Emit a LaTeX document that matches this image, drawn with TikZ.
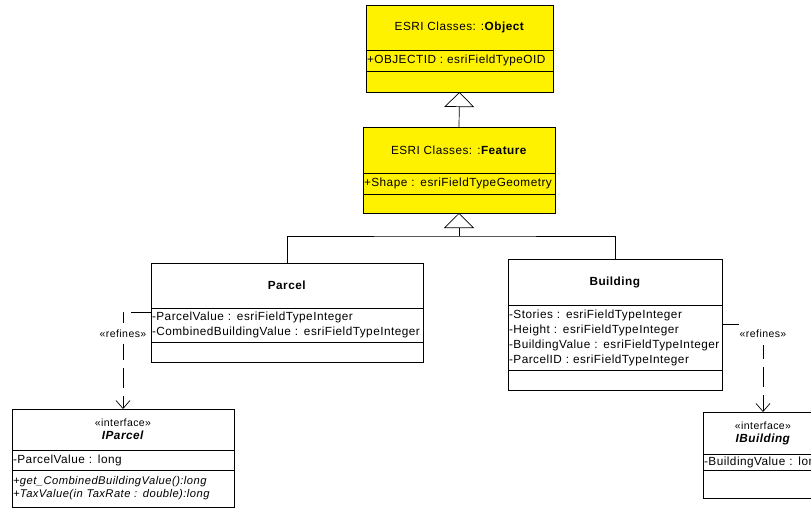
\documentclass[tikz,border=0pt]{standalone}
\usepackage{fontspec}
\setmainfont{Liberation Sans}[LetterSpace=4]
\usetikzlibrary{arrows.meta,positioning}

\begin{document}
\begin{tikzpicture}[
    x=1pt, y=-1pt,
    font=\fontsize{11.8}{15}\selectfont,
    part/.style={draw, line width=0.7pt, inner xsep=1pt, inner ysep=1pt, outer sep=0pt},
    head/.style={part, align=center},
    fields/.style={part, align=left},
    esri/.style={fill=yellow},
    gen/.style={-{Triangle[open, length=15pt, width=30pt]}, line width=0.7pt},
    refine/.style={-{Straight Barb[length=8pt, width=14pt]}, line width=0.7pt, dash pattern=on 20pt off 8pt},
    reflabel/.style={fill=white, font=\fontsize{10.5}{12}\selectfont, inner sep=1pt, minimum height=21pt}
]
\clip (0,0) rectangle (811,509);

% ESRI classes
\node[head, esri, minimum width=187pt, minimum height=45pt] (object) at (459.5,27.5) {ESRI Classes: :\textbf{Object}};
\node[fields, esri, text width=185pt, minimum height=21pt, below=0pt of object] (objectattr) {+OBJECTID : esriFieldTypeOID};
\node[fields, esri, text width=185pt, minimum height=21pt, below=0pt of objectattr] (objectops) {};

\node[head, esri, minimum width=192pt, minimum height=46pt] (feature) at (459,150) {ESRI Classes: :\textbf{Feature}};
\node[fields, esri, text width=190pt, minimum height=21pt, below=0pt of feature] (featureattr) {+Shape : esriFieldTypeGeometry};
\node[fields, esri, text width=190pt, minimum height=19pt, below=0pt of featureattr] (featureops) {};

% Classes
\node[head, minimum width=272pt, minimum height=45pt] (parcel) at (287,285.5) {\textbf{Parcel}};
\node[fields, text width=270pt, minimum height=34pt, below=0pt of parcel] (parcelattr) {-ParcelValue : esriFieldTypeInteger\\-CombinedBuildingValue : esriFieldTypeInteger};
\node[fields, text width=270pt, minimum height=20pt, below=0pt of parcelattr] (parcelops) {};

\node[head, minimum width=214pt, minimum height=46pt] (building) at (615,282) {\textbf{Building}};
\node[fields, text width=212pt, minimum height=65pt, below=0pt of building] (buildingattr) {-Stories : esriFieldTypeInteger\\-Height : esriFieldTypeInteger\\-BuildingValue : esriFieldTypeInteger\\-ParcelID : esriFieldTypeInteger};
\node[fields, text width=212pt, minimum height=20pt, below=0pt of buildingattr] (buildingops) {};

% Interfaces
\node[head, minimum width=222pt, minimum height=41pt] (iparcel) at (123,429.5) {{\fontsize{10.5}{12}\selectfont «interface»}\\[-2pt]\textbf{\textit{IParcel}}};
\node[fields, text width=220pt, minimum height=20pt, below=0pt of iparcel] (iparcelattr) {-ParcelValue : long};
\node[fields, text width=220pt, minimum height=37pt, below=0pt of iparcelattr, font=\fontsize{11.2}{13}\selectfont\itshape] (iparcelops) {+get\_CombinedBuildingValue():long\\+TaxValue(in TaxRate : double):long};

\node[head, minimum width=120pt, minimum height=42pt] (ibuilding) at (763,433) {{\fontsize{10.5}{12}\selectfont «interface»}\\[-2pt]\textbf{\textit{IBuilding}}};
\node[fields, text width=118pt, minimum height=16pt, below=0pt of ibuilding] (ibuildingattr) {-BuildingValue : long};
\node[fields, text width=118pt, minimum height=28pt, below=0pt of ibuildingattr] (ibuildingops) {};

% Generalizations
\coordinate (bus) at (459,236);
\draw[gen] (feature.north) -- (objectops.south);
\draw[line width=0.7pt] (parcel.north) |- (bus) -| (building.north);
\draw[gen] (bus) -- (featureops.south);

% Refines
\draw[refine] ([yshift=-4pt]parcelattr.north west) -| node[reflabel, pos=0.61] (parcelref) {«refines»} (iparcel.north);
\draw[refine] ([yshift=-19pt]buildingattr.north east) -| node[reflabel, pos=0.557] (buildingref) {«refines»} (ibuilding.north);

\end{tikzpicture}
\end{document}
